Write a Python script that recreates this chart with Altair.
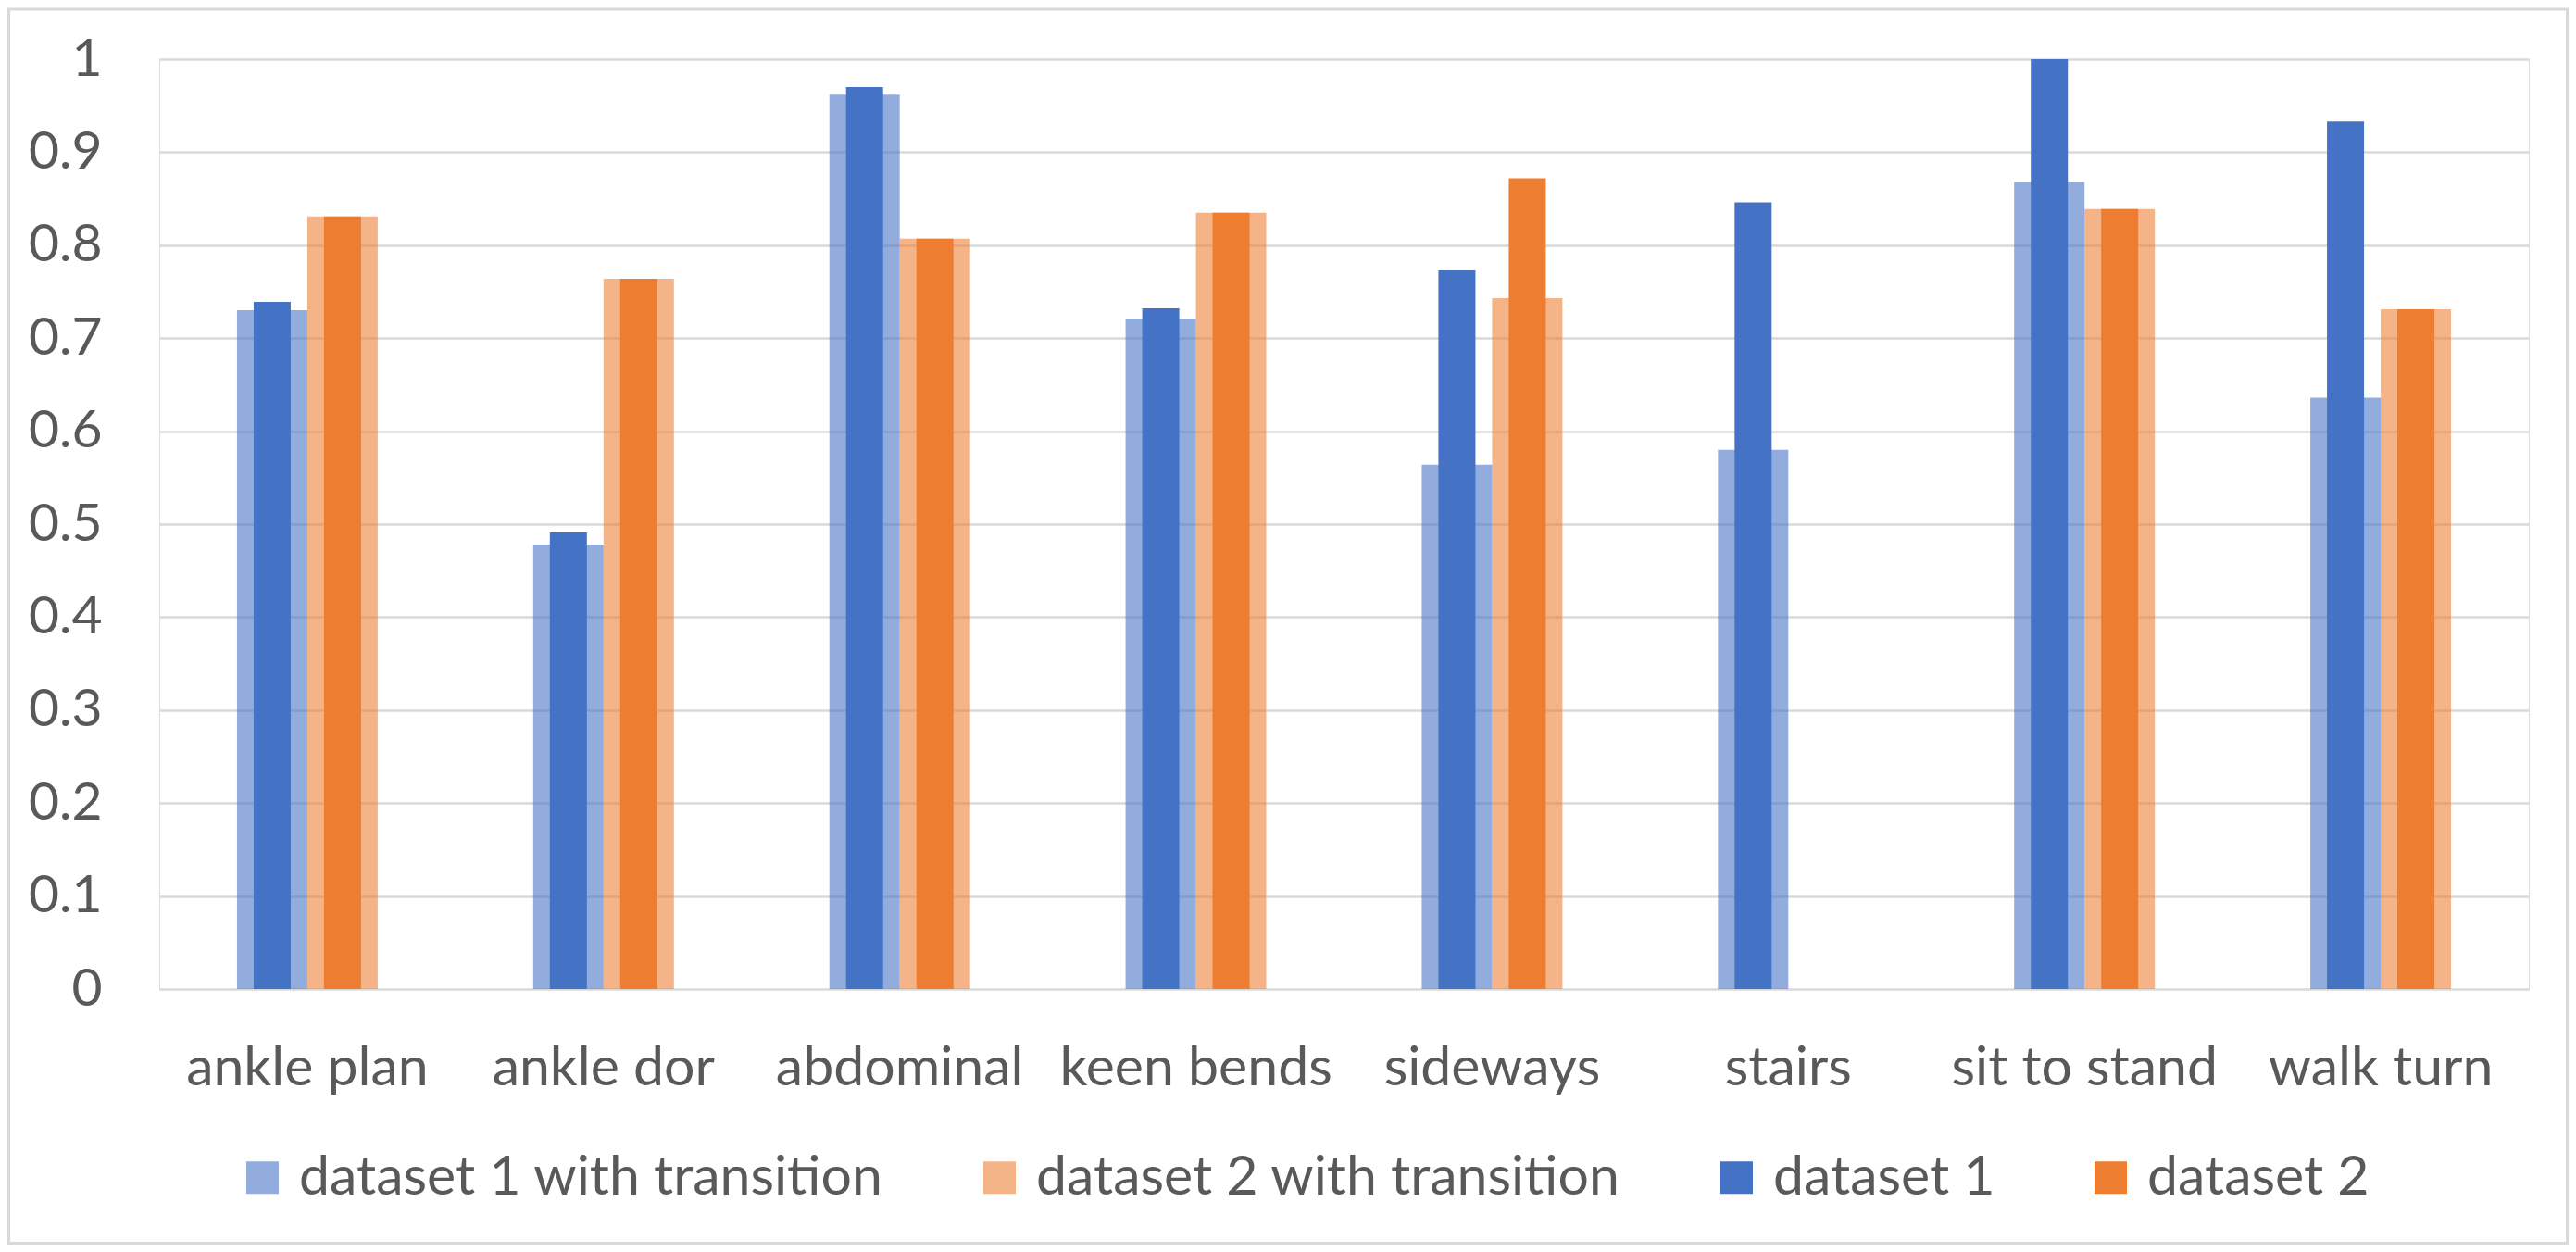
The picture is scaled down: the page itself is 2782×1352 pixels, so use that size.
import altair as alt
import pandas as pd

categories = ["ankle plan", "ankle dor", "abdominal", "keen bends",
              "sideways", "stairs", "sit to stand", "walk turn"]
d1_trans = [0.730, 0.478, 0.962, 0.721, 0.564, 0.580, 0.868, 0.636]
d2_trans = [0.831, 0.764, 0.807, 0.835, 0.743, None, 0.839, 0.731]
d1_vals = [0.739, 0.491, 0.970, 0.732, 0.773, 0.846, 1.000, 0.933]
d2_vals = [0.831, 0.764, 0.807, 0.835, 0.872, None, 0.839, 0.731]

series_names = ["dataset 1 with transition", "dataset 2 with transition",
                "dataset 1", "dataset 2"]
series_colors = ["rgba(68,114,196,0.58)", "rgba(237,125,49,0.58)",
                 "#4472C4", "#ED7D31"]

rows = []
for name, grp, kind, vals in [
    (series_names[0], "1", "light", d1_trans),
    (series_names[1], "2", "light", d2_trans),
    (series_names[2], "1", "dark", d1_vals),
    (series_names[3], "2", "dark", d2_vals),
]:
    for c, v in zip(categories, vals):
        if v is not None:
            rows.append({"category": c, "series": name, "grp": grp,
                         "kind": kind, "value": v})
df = pd.DataFrame(rows)

FONT = "Lato"
TXT = "#595959"
GRID = "#D9D9D9"
W, H = 2559, 1004

x_enc = alt.X("category:N", sort=categories, title=None,
              scale=alt.Scale(paddingInner=0, paddingOuter=0),
              axis=alt.Axis(labelAngle=0, labelFontSize=59, labelFont=FONT,
                            labelColor=TXT, labelPadding=56, ticks=False,
                            domain=False, grid=False, labelLimit=0))
# outer slots "L" and "R" stay empty so the pair of bars is centred in each category
xo_enc = alt.XOffset("grp:N",
                     scale=alt.Scale(domain=["L", "1", "2", "R"],
                                     paddingInner=0, paddingOuter=0.105))
y_enc = alt.Y("value:Q", title=None,
              scale=alt.Scale(domain=[0, 1], nice=False),
              axis=alt.Axis(values=[i / 10 for i in range(11)], format="~g",
                            labelFontSize=57, labelFont=FONT, labelColor=TXT,
                            labelPadding=62, ticks=False, domain=False,
                            gridColor=GRID, gridWidth=2.5))
color_enc = alt.Color("series:N", title=None,
                      scale=alt.Scale(domain=series_names, range=series_colors),
                      legend=alt.Legend(orient="none", legendX=82, legendY=1178,
                                        direction="horizontal",
                                        symbolType="square", symbolSize=1225,
                                        symbolStrokeWidth=0,
                                        labelFontSize=59, labelFont=FONT,
                                        labelColor=TXT, labelOffset=10,
                                        columnPadding=95, labelLimit=0))

base = alt.Chart(df)
light = base.transform_filter(alt.datum.kind == "light").mark_bar().encode(
    x=x_enc, xOffset=xo_enc, y=y_enc, color=color_enc)
dark = base.transform_filter(alt.datum.kind == "dark").mark_bar(width=40).encode(
    x=x_enc, xOffset=xo_enc, y=y_enc, color=color_enc)

frame = alt.Chart(alt.Data(values=[{}])).mark_rect(
    filled=False, stroke=GRID, strokeWidth=3).encode(
    x=alt.value(-162.5), x2=alt.value(W + 41.5),
    y=alt.value(-54), y2=alt.value(H + 274.5))

chart = alt.layer(light, dark, frame).properties(
    width=W, height=H,
    autosize=alt.AutoSizeParams(type="none"),
    padding={"left": 164, "top": 56, "right": 43, "bottom": 276},
).configure_view(stroke=None).configure(background="white")

chart.save("out.html", embed_options={"renderer": "svg", "actions": False})
